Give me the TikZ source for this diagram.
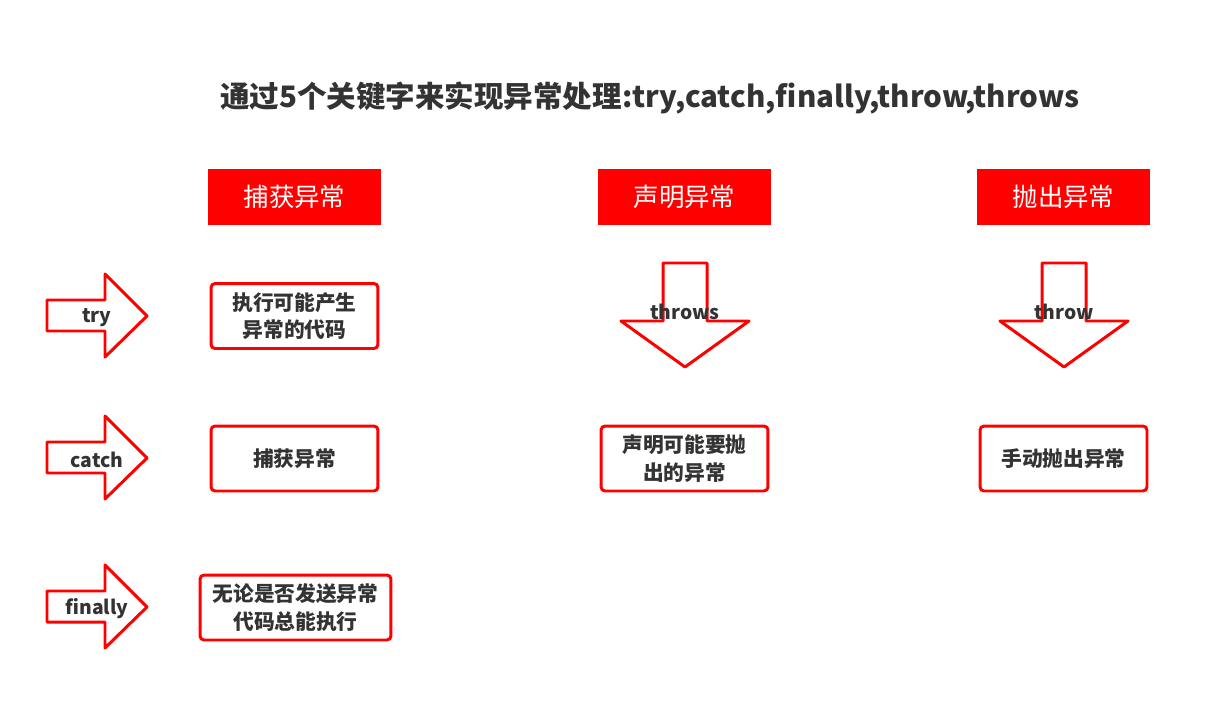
\documentclass[tikz,border=0pt]{standalone}
\usepackage{fontspec}
\setmainfont{Noto Sans CJK SC}
\usepackage{xcolor}
\definecolor{alertred}{HTML}{FF0000}
\definecolor{textgray}{HTML}{333333}

\begin{document}
\begin{tikzpicture}[x=0.02cm, y=-0.02cm,
    header/.style={fill=alertred, text=white, minimum width=3.46cm, minimum height=1.12cm,
      inner sep=0pt, font=\fontsize{14.5}{17}\selectfont},
    infobox/.style={draw=alertred, line width=1.7pt, rounded corners=2.3pt, fill=white,
      minimum width=3.34cm, minimum height=1.3cm, align=center, inner sep=0pt,
      text=textgray, font=\fontsize{11.8}{15.8}\selectfont\bfseries},
    shape arrow/.style={draw=alertred, line width=1.7pt, line join=round, fill=white},
    arrow label/.style={text=textgray, font=\fontsize{11}{12}\selectfont\bfseries, inner sep=0pt}]
    \useasboundingbox (0,0) rectangle (1214,710);

    % title
    \node[text=textgray, font=\fontsize{16.8}{20}\selectfont\bfseries] (title) at (650,98)
      {通过5个关键字来实现异常处理:try,catch,finally,throw,throws};

    % column heads
    \node[header] (catchhead) at (294.5,197) {捕获异常};
    \node[header] (declarehead) at (684.5,197) {声明异常};
    \node[header] (throwhead) at (1063.5,197) {抛出异常};

    % keyword arrows on the left
    \foreach \c/\name/\word in {316/tryarrow/try, 458/catcharrow/catch, 607/finallyarrow/finally} {
      \draw[shape arrow] (47,\c-16) -- (105,\c-16) -- (105,\c-42) -- (147,\c)
        -- (105,\c+41) -- (105,\c+15) -- (47,\c+15) -- cycle;
      \node[arrow label] (\name) at (97,\c+2) {\word};
    }

    % down arrows
    \foreach \c/\name/\word in {685/throwsarrow/throws, 1064/throwarrow/throw} {
      \draw[shape arrow] (\c-22,263) -- (\c+22,263) -- (\c+22,321) -- (\c+64,321)
        -- (\c,367) -- (\c-64,321) -- (\c-22,321) -- cycle;
      \node[arrow label] (\name) at (\c,312) {\word};
    }

    % boxes
    \node[infobox] (trybox) at (294.5,316) {执行可能产生\\异常的代码};
    \node[infobox] (catchbox) at (294.5,458.5) {捕获异常};
    \node[infobox, minimum width=3.82cm] (finallybox) at (295.5,607.5) {无论是否发送异常\\代码总能执行};
    \node[infobox] (declarebox) at (684.5,458.5) {声明可能要抛\\出的异常};
    \node[infobox] (throwbox) at (1063.5,458.5) {手动抛出异常};
\end{tikzpicture}
\end{document}
